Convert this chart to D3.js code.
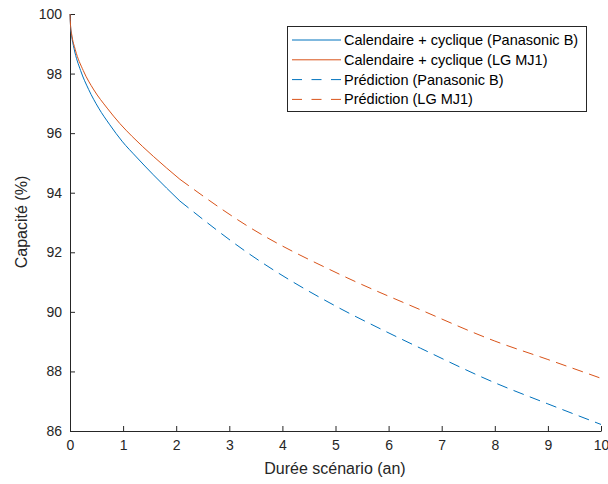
<!DOCTYPE html>
<html>
<head>
<meta charset="utf-8">
<script src="https://cdn.jsdelivr.net/npm/d3@7"></script>
<style>
  body { margin: 0; background: #fff; }
  svg { display: block; font-family: "Liberation Sans", Arial, sans-serif; }
</style>
</head>
<body>
<svg id="chart" width="608" height="484"></svg>
<script>
// Data
const xTicks = [0, 1, 2, 3, 4, 5, 6, 7, 8, 9, 10];
const yTicks = [86, 88, 90, 92, 94, 96, 98, 100];

const panaSolidT = [0, 0.01, 0.03, 0.075, 0.2, 0.35, 0.54, 0.75, 0.98, 1.25, 1.57, 2.07];
const panaSolidV = [100, 99.6, 99.28, 98.85, 98.1, 97.47, 96.84, 96.28, 95.73, 95.2, 94.6, 93.72];
const lgSolidT = [0, 0.01, 0.03, 0.1, 0.25, 0.45, 0.70, 0.94, 1.17, 1.57, 2.07];
const lgSolidV = [100, 99.62, 99.34, 98.8, 98.1, 97.45, 96.84, 96.32, 95.89, 95.22, 94.45];
const panaPredT = [2.07, 3.38, 5.08, 5.80, 6.6, 8, 9, 10];
const panaPredV = [93.72, 91.94, 90.12, 89.47, 88.78, 87.62, 86.91, 86.22];
const lgPredT = [2.07, 3.38, 5.08, 6.6, 8, 9, 10];
const lgPredV = [94.45, 92.84, 91.26, 90.07, 89.02, 88.4, 87.77];

const legendLabels = [
  "Calendaire + cyclique (Panasonic B)",
  "Calendaire + cyclique (LG MJ1)",
  "Prédiction (Panasonic B)",
  "Prédiction (LG MJ1)"
];

const blue = "#0072BD", orange = "#D95319", axisCol = "#262626";

const svg = d3.select("#chart");
const x = d3.scaleLinear().domain([0, 10]).range([70, 601]);
const y = d3.scaleLinear().domain([86, 100]).range([431, 14]);

// Axes
const xAxis = d3.axisBottom(x).tickValues(xTicks).tickSizeInner(-5).tickSizeOuter(0).tickPadding(9);
const yAxis = d3.axisLeft(y).tickValues(yTicks).tickSizeInner(-5).tickSizeOuter(0).tickPadding(8);

const gx = svg.append("g").attr("transform", "translate(0,431)").call(xAxis);
const gy = svg.append("g").attr("transform", "translate(70,0)").call(yAxis);
[gx, gy].forEach(g => {
  g.select(".domain").attr("stroke", axisCol).attr("stroke-width", 1);
  g.selectAll(".tick line").attr("stroke", axisCol);
  g.selectAll(".tick text").attr("fill", axisCol).style("font-size", "14px")
    .style("font-family", "'Liberation Sans', Arial, sans-serif");
});

// Axis labels
svg.append("text").attr("x", 335).attr("y", 474).attr("text-anchor", "middle")
  .attr("fill", axisCol).style("font-size", "16px").text("Durée scénario (an)");
svg.append("text").attr("transform", "translate(27,222) rotate(-90)").attr("text-anchor", "middle")
  .attr("fill", axisCol).style("font-size", "16px").text("Capacité (%)");

// Lines
const line = d3.line().x(d => x(d[0])).y(d => y(d[1])).curve(d3.curveMonotoneX);
const series = [
  {t: panaSolidT, v: panaSolidV, c: blue, dash: null},
  {t: lgSolidT, v: lgSolidV, c: orange, dash: null},
  {t: panaPredT, v: panaPredV, c: blue, dash: "11,6.5"},
  {t: lgPredT, v: lgPredV, c: orange, dash: "11,6.5"}
];
series.forEach(s => {
  const pts = s.t.map((t, i) => [t, s.v[i]]);
  svg.append("path").datum(pts).attr("d", line)
    .attr("fill", "none").attr("stroke", s.c).attr("stroke-width", 1)
    .attr("stroke-dasharray", s.dash);
});

// Legend
const lg = svg.append("g");
lg.append("rect").attr("x", 287.5).attr("y", 26.5).attr("width", 299).attr("height", 85)
  .attr("fill", "#fff").attr("stroke", axisCol).attr("stroke-width", 1);
legendLabels.forEach((lab, i) => {
  const yy = 40 + i * 19.8;
  const s = series[i];
  lg.append("line").attr("x1", 292).attr("x2", 341).attr("y1", yy).attr("y2", yy)
    .attr("stroke", s.c).attr("stroke-width", 1).attr("stroke-dasharray", s.dash ? "10,9.5" : null);
  lg.append("text").attr("x", 344).attr("y", yy + 5).attr("fill", "#000")
    .style("font-size", "14.5px").text(lab);
});
</script>
</body>
</html>
